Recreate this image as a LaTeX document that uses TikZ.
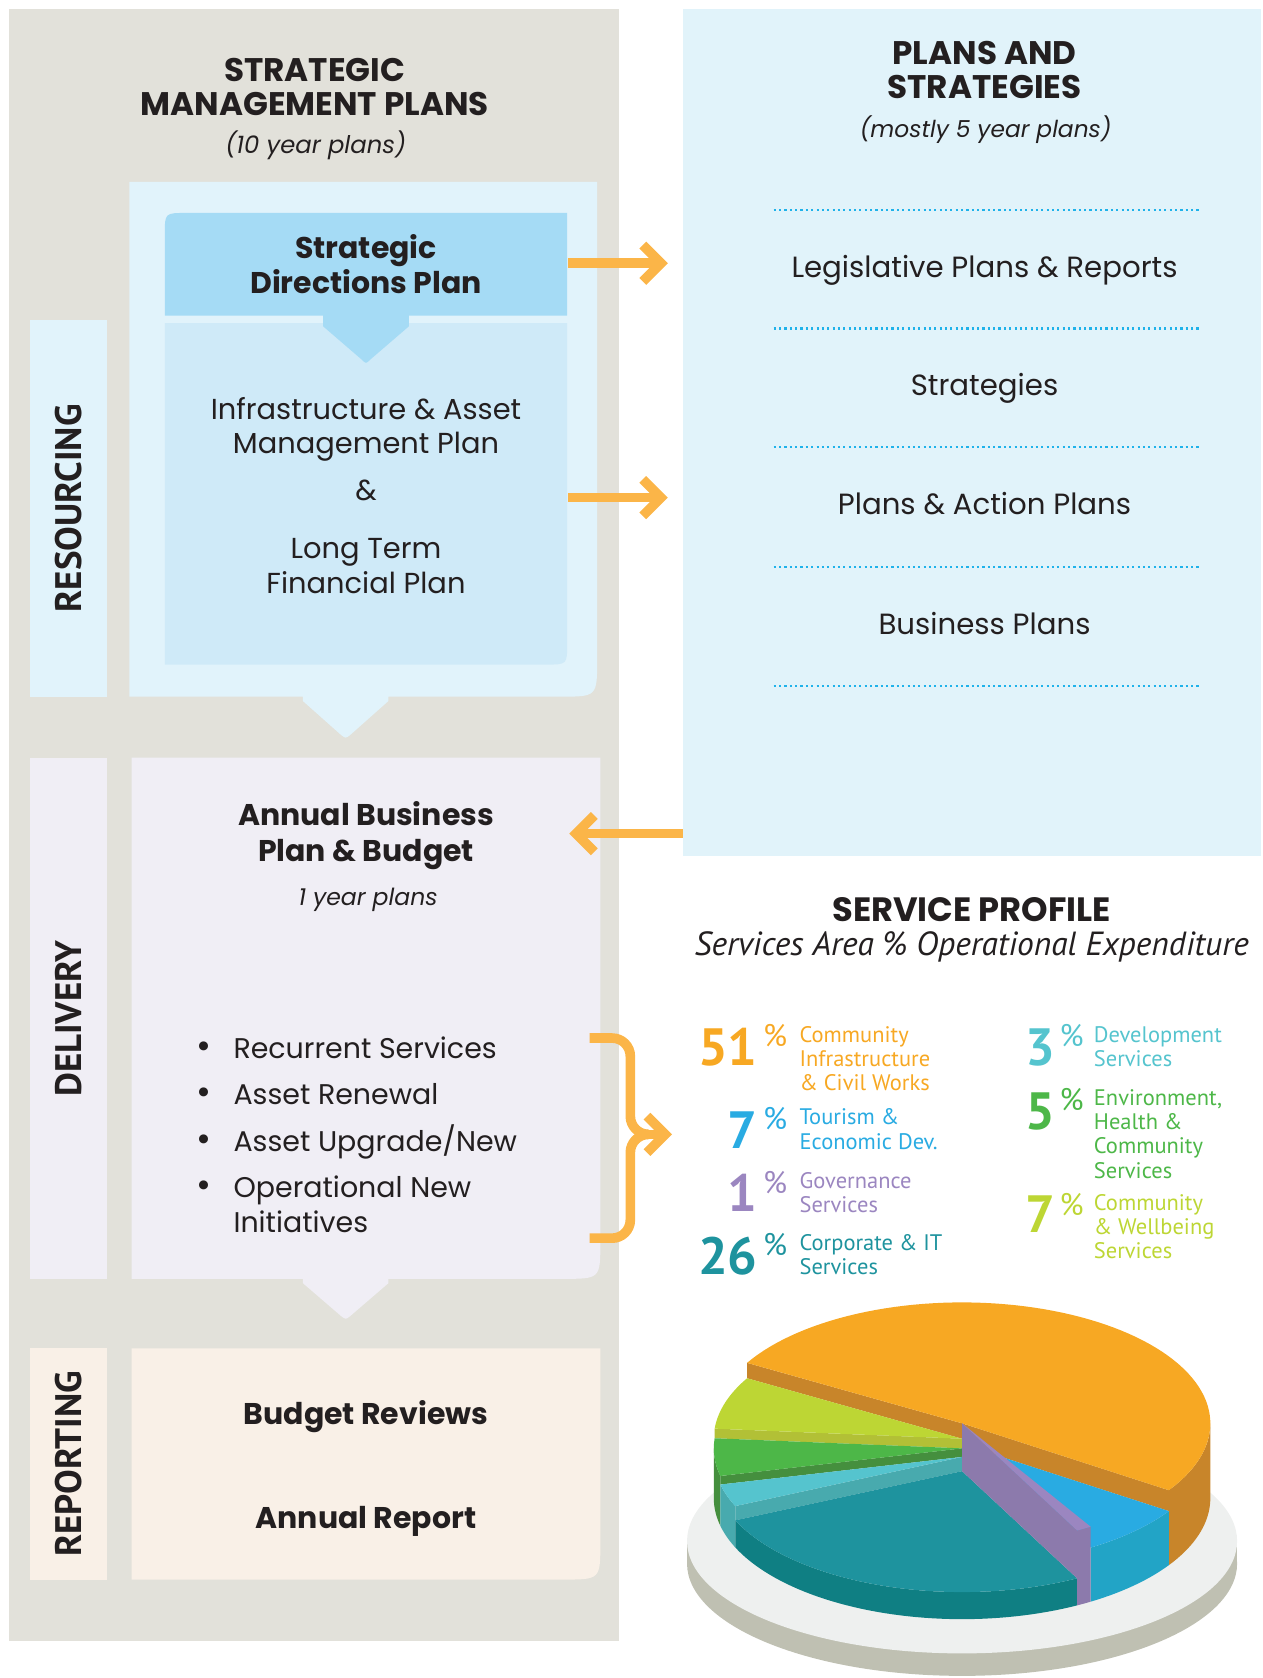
\documentclass[tikz,border=0pt]{standalone}
\usepackage{fontspec}
\setmainfont{Poppins}
\newfontfamily\dinfont{PT Sans}
\usetikzlibrary{arrows.meta}
\definecolor{darktext}{HTML}{231F20}
\definecolor{panelgrey}{HTML}{E2E1DA}
\definecolor{resblue}{HTML}{E1F3FB}
\definecolor{sdpblue}{HTML}{A5DBF5}
\definecolor{iamblue}{HTML}{CFEAF8}
\definecolor{planblue}{HTML}{E1F3FA}
\definecolor{delpurple}{HTML}{F0EEF5}
\definecolor{reppeach}{HTML}{F9F0E7}
\definecolor{arrowcol}{HTML}{FBB548}
\definecolor{dotcyan}{HTML}{1FB2EA}
\definecolor{sorange}{HTML}{F7A823}
\definecolor{sorangedk}{HTML}{C8852A}
\definecolor{sblue}{HTML}{29ABE2}
\definecolor{sbluedk}{HTML}{22A4C6}
\definecolor{spurple}{HTML}{9B86C0}
\definecolor{spurpledk}{HTML}{8C7AAC}
\definecolor{steal}{HTML}{1E939E}
\definecolor{stealdk}{HTML}{0F7F83}
\definecolor{slteal}{HTML}{55C4CE}
\definecolor{sltealdk}{HTML}{48AAAE}
\definecolor{sgreen}{HTML}{4DB748}
\definecolor{sgreendk}{HTML}{458F3E}
\definecolor{slime}{HTML}{BDD634}
\definecolor{slimedk}{HTML}{B2C036}
\definecolor{platelight}{HTML}{EEF0EF}
\definecolor{platedark}{HTML}{BFC0B2}
\begin{document}
\begin{tikzpicture}[x=1pt,y=-1pt,
  orangearr/.style={draw=arrowcol, line width=9pt, -{Straight Barb[length=17pt,width=34pt]}},
  orangeline/.style={draw=arrowcol, line width=9pt},
  sidelabel/.style={rotate=90, text=darktext, font=\dinfont\bfseries\fontsize{34.5}{34.5}\selectfont},
  boxtxt/.style={text=darktext, align=center, inner sep=0pt},
  bullettxt/.style={boxtxt, anchor=base west, align=left, font=\fontsize{26.6}{32}\selectfont},
  legnum/.style={anchor=base east, inner sep=0pt, font=\dinfont\bfseries\fontsize{49}{49}\selectfont},
  legpct/.style={anchor=north west, inner sep=0pt, font=\dinfont\fontsize{29}{29}\selectfont},
  legtxt/.style={anchor=north west, inner sep=0pt, align=left, font=\dinfont\fontsize{21}{22.6}\selectfont}]
\useasboundingbox (0,0) rectangle (1180,1568);

% Drawing the grey panel
\fill[panelgrey] (8,8) rectangle (578,1533);

% Drawing the plans and strategies panel
\fill[planblue] (638,8) rectangle (1178,800);

% Drawing the side bars
\fill[resblue] (28,299) rectangle (100,651);
\fill[delpurple] (28,708) rectangle (100,1195);
\fill[reppeach] (28,1260) rectangle (100,1476);

% Drawing the resourcing box with pointer
\fill[resblue] (121,170) -- (558,170) -- (558,616) .. controls (558,651) .. (523,651) -- (363,651) -- (363,655) -- (327,687) .. controls (323,690) .. (319,687) -- (283,655) -- (283,651) -- (121,651) -- cycle;

% Drawing the infrastructure box
\fill[iamblue] (154,302) -- (530,302) -- (530,601) .. controls (530,621) .. (510,621) -- (154,621) -- cycle;

% Drawing the strategic directions box with pointer
\fill[sdpblue] (154,219) .. controls (154,199) .. (174,199) -- (530,199) -- (530,295) -- (154,295) -- cycle;
\fill[sdpblue] (302,294) -- (382,294) -- (382,305) -- (346,336) .. controls (342,340) .. (338,336) -- (302,305) -- cycle;

% Drawing the delivery box with pointer
\fill[delpurple] (123,708) -- (561,708) -- (561,1160) .. controls (561,1195) .. (526,1195) -- (363,1195) -- (363,1199) -- (327,1230) .. controls (323,1233) .. (319,1230) -- (283,1199) -- (283,1195) -- (123,1195) -- cycle;

% Drawing the reporting box
\fill[reppeach] (123,1260) -- (561,1260) -- (561,1441) .. controls (561,1476) .. (526,1476) -- (123,1476) -- cycle;

% Marking the side labels
\node[sidelabel] (resourcing) at (64,475) {RESOURCING};
\node[sidelabel] (delivery) at (64,952) {DELIVERY};
\node[sidelabel] (reporting) at (64,1368) {REPORTING};

% Marking the left header
\node[boxtxt, anchor=north, font=\bfseries\fontsize{30.5}{32}\selectfont] (smptitle) at (294,54) {STRATEGIC\\MANAGEMENT PLANS};
\node[boxtxt, anchor=north, font=\itshape\fontsize{22.7}{24}\selectfont] (smpsub) at (295,122) {(10 year plans)};

% Marking the boxes of the resourcing part
\node[boxtxt, anchor=north, font=\bfseries\fontsize{28}{33}\selectfont] (sdp) at (342,219) {Strategic\\Directions Plan};
\node[boxtxt, anchor=north, font=\fontsize{27}{32}\selectfont] (iamp) at (342,371) {Infrastructure \& Asset\\Management Plan};
\node[boxtxt, anchor=north, font=\fontsize{27}{32}\selectfont] (iamand) at (342,448) {\&};
\node[boxtxt, anchor=north, font=\fontsize{27}{33}\selectfont] (ltfp) at (342,503) {Long Term\\Financial Plan};

% Marking the plans and strategies header
\node[boxtxt, anchor=north, font=\bfseries\fontsize{30.5}{32}\selectfont] (pastitle) at (920,38) {PLANS AND\\STRATEGIES};
\node[boxtxt, anchor=north, font=\itshape\fontsize{21.8}{24}\selectfont] (passub) at (921,108) {(mostly 5 year plans)};

% Drawing the dotted separators
\foreach \yy in {196,307,418,530,641}
  \draw[dotcyan, line width=2pt, dash pattern=on 2pt off 3pt] (723,\yy) -- (1121,\yy);

% Marking the plan types
\node[boxtxt, anchor=base, font=\fontsize{27.3}{30}\selectfont] (legis) at (920,259) {Legislative Plans \& Reports};
\node[boxtxt, anchor=base, font=\fontsize{27.3}{30}\selectfont] (strat) at (920,370) {Strategies};
\node[boxtxt, anchor=base, font=\fontsize{27.3}{30}\selectfont] (action) at (920,481) {Plans \& Action Plans};
\node[boxtxt, anchor=base, font=\fontsize{27.3}{30}\selectfont] (business) at (920,593) {Business Plans};

% Drawing the arrows to the plans
\coordinate (sdpout) at (531,246);
\coordinate (pasin1) at (624,246);
\coordinate (iamout) at (531,465);
\coordinate (pasin2) at (624,465);
\draw[orangearr] (sdpout) -- (pasin1);
\draw[orangearr] (iamout) -- (pasin2);

% Drawing the arrow back to the annual plan
\coordinate (pasout) at (638,779);
\coordinate (abpin) at (532,779);
\draw[orangearr] (pasout) -- (abpin);

% Marking the delivery box
\node[boxtxt, anchor=north, font=\bfseries\fontsize{28}{33}\selectfont] (abp) at (342,749) {Annual Business\\Plan \& Budget};
\node[boxtxt, anchor=north, font=\itshape\fontsize{22}{24}\selectfont] (oneyear) at (344,830) {1 year plans};
\node[bullettxt] (recur) at (183,989) {\makebox[35pt][l]{\fontsize{34}{34}\selectfont•}Recurrent Services};
\node[bullettxt] (renew) at (183,1032) {\makebox[35pt][l]{\fontsize{34}{34}\selectfont•}Asset Renewal};
\node[bullettxt] (upgrade) at (183,1076) {\makebox[35pt][l]{\fontsize{34}{34}\selectfont•}Asset Upgrade/New};
\node[bullettxt, anchor=north west] (opnew) at (183,1099) {\makebox[35pt][l]{\fontsize{34}{34}\selectfont•}Operational New\\\hspace*{35pt}Initiatives};

% Drawing the brace to the service profile
\draw[orangeline, rounded corners=17] (551,970) -- (589,970) -- (589,1060) -- (606,1060);
\draw[orangeline, rounded corners=17] (551,1157) -- (589,1157) -- (589,1060) -- (606,1060);
\coordinate (bracetip) at (598,1060);
\coordinate (servin) at (628,1060);
\draw[orangearr] (bracetip) -- (servin);

% Marking the reporting box
\node[boxtxt, anchor=base, font=\bfseries\fontsize{28}{30}\selectfont] (budrev) at (342,1331) {Budget Reviews};
\node[boxtxt, anchor=base, font=\bfseries\fontsize{28}{30}\selectfont] (annrep) at (342,1428) {Annual Report};

% Marking the service profile header
\node[boxtxt, anchor=base, font=\bfseries\fontsize{31.5}{32}\selectfont] (sptitle) at (908,861) {SERVICE PROFILE};
\node[boxtxt, anchor=base, font=\dinfont\itshape\fontsize{31.3}{32}\selectfont] (spsub) at (908,893) {Services Area \% Operational Expenditure};

% Marking the service shares
\node[legnum, text=sorange] (num51) at (708,996) {51};
\node[legpct, text=sorange] (pct51) at (713,957) {\%};
\node[legtxt, text=sorange] (txt51) at (747,959) {Community\\Infrastructure\\\& Civil Works};
\node[legnum, text=sblue] (num7a) at (708,1073) {7};
\node[legpct, text=sblue] (pct7a) at (713,1035) {\%};
\node[legtxt, text=sblue] (txt7a) at (747,1036) {Tourism \&\\Economic Dev.};
\node[legnum, text=spurple] (num1) at (708,1132) {1};
\node[legpct, text=spurple] (pct1) at (713,1094) {\%};
\node[legtxt, text=spurple] (txt1) at (747,1095) {Governance\\Services};
\node[legnum, text=steal] (num26) at (708,1191) {26};
\node[legpct, text=steal] (pct26) at (713,1152) {\%};
\node[legtxt, text=steal] (txt26) at (747,1153) {Corporate \& IT\\Services};
\node[legnum, text=slteal] (num3) at (986,996) {3};
\node[legpct, text=slteal] (pct3) at (990,957) {\%};
\node[legtxt, text=slteal] (txt3) at (1022,959) {Development\\Services};
\node[legnum, text=sgreen] (num5) at (986,1055) {5};
\node[legpct, text=sgreen] (pct5) at (990,1017) {\%};
\node[legtxt, text=sgreen] (txt5) at (1022,1018) {Environment,\\Health \&\\Community\\Services};
\node[legnum, text=slime] (num7b) at (986,1152) {7};
\node[legpct, text=slime] (pct7b) at (990,1115) {\%};
\node[legtxt, text=slime] (txt7b) at (1022,1116) {Community\\\& Wellbeing\\Services};

% Drawing the plate
\fill[platedark] (642,1440) rectangle (1156,1461);
\fill[platedark] (899,1461) ellipse [x radius=257, y radius=105];
\fill[platelight] (899,1440) ellipse [x radius=257, y radius=105];

% Drawing the pie
\begin{scope}[shift={(899,1400)}, yscale=-1]
% Drawing slice orange
\fill[sorangedk] plot[domain=-33.6:0, samples=20] ({232*cos(\x)},{113*sin(\x)}) -- plot[domain=0:-33.6, samples=20] ({232*cos(\x)},{113*sin(\x)+70}) -- cycle;
\fill[sorangedk] (0,55.6) -- ({232*cos(150)},{113*sin(150)+55.6}) -- ({232*cos(150)},{113*sin(150)+70}) -- (0,70) -- cycle;
\fill[sorangedk] (0,50.5) -- ({232*cos(326.4)},{113*sin(326.4)+50.5}) -- ({232*cos(326.4)},{113*sin(326.4)+70}) -- (0,70) -- cycle;
\fill[sorange] (0,70) -- plot[domain=-33.6:150, samples=80] ({232*cos(\x)},{113*sin(\x)+70}) -- cycle;
% Drawing slice lime
\fill[slimedk] (0,46.6) -- ({232*cos(175.2)},{113*sin(175.2)+46.6}) -- ({232*cos(175.2)},{113*sin(175.2)+55.6}) -- (0,55.6) -- cycle;
\fill[slime] (0,55.6) -- plot[domain=150:175.2, samples=20] ({232*cos(\x)},{113*sin(\x)+55.6}) -- cycle;
% Drawing slice green
\fill[sgreendk] plot[domain=180:193.2, samples=10] ({232*cos(\x)},{113*sin(\x)}) -- plot[domain=193.2:180, samples=10] ({232*cos(\x)},{113*sin(\x)+46.6}) -- cycle;
\fill[sgreendk] (0,38.6) -- ({232*cos(193.2)},{113*sin(193.2)+38.6}) -- ({232*cos(193.2)},{113*sin(193.2)+46.6}) -- (0,46.6) -- cycle;
\fill[sgreen] (0,46.6) -- plot[domain=175.2:193.2, samples=15] ({232*cos(\x)},{113*sin(\x)+46.6}) -- cycle;
% Drawing slice light teal
\fill[sltealdk] plot[domain=193.2:204, samples=10] ({232*cos(\x)},{113*sin(\x)}) -- plot[domain=204:193.2, samples=10] ({232*cos(\x)},{113*sin(\x)+38.6}) -- cycle;
\fill[sltealdk] (0,25.3) -- ({232*cos(204)},{113*sin(204)+25.3}) -- ({232*cos(204)},{113*sin(204)+38.6}) -- (0,38.6) -- cycle;
\fill[slteal] (0,38.6) -- plot[domain=193.2:204, samples=10] ({232*cos(\x)},{113*sin(\x)+38.6}) -- cycle;
% Drawing slice teal
\fill[stealdk] plot[domain=204:297.6, samples=50] ({232*cos(\x)},{113*sin(\x)}) -- plot[domain=297.6:204, samples=50] ({232*cos(\x)},{113*sin(\x)+25.3}) -- cycle;
\fill[steal] (0,25.3) -- plot[domain=204:297.6, samples=50] ({232*cos(\x)},{113*sin(\x)+25.3}) -- cycle;
% Drawing slice blue
\fill[sbluedk] plot[domain=301.2:326.4, samples=15] ({232*cos(\x)},{113*sin(\x)}) -- plot[domain=326.4:301.2, samples=15] ({232*cos(\x)},{113*sin(\x)+50.5}) -- cycle;
\fill[sblue] (0,50.5) -- plot[domain=301.2:326.4, samples=15] ({232*cos(\x)},{113*sin(\x)+50.5}) -- cycle;
% Drawing slice purple
\fill[spurpledk] plot[domain=297.6:301.2, samples=5] ({232*cos(\x)},{113*sin(\x)}) -- plot[domain=301.2:297.6, samples=5] ({232*cos(\x)},{113*sin(\x)+70}) -- cycle;
\fill[spurpledk] (0,25.3) -- ({232*cos(297.6)},{113*sin(297.6)+25.3}) -- ({232*cos(297.6)},{113*sin(297.6)+70}) -- (0,70) -- cycle;
\fill[spurple] (0,70) -- plot[domain=297.6:301.2, samples=5] ({232*cos(\x)},{113*sin(\x)+70}) -- cycle;
\end{scope}
\end{tikzpicture}
\end{document}
